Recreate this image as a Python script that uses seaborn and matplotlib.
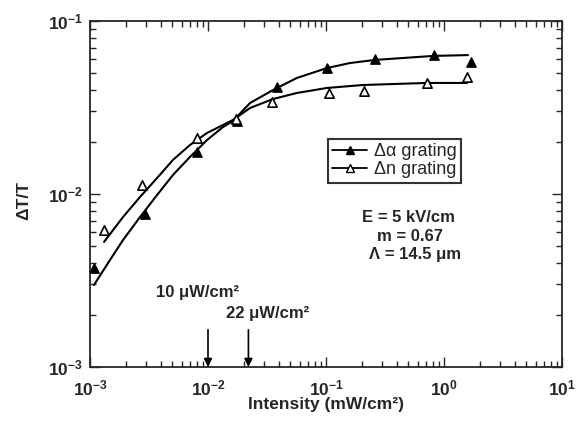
import numpy as np
import pandas as pd
import matplotlib
matplotlib.use("Agg")
import matplotlib.pyplot as plt
from matplotlib.lines import Line2D
import seaborn as sns

# ---- data ----
alpha_I = [1.08e-3, 2.92e-3, 8.07e-3, 0.0176, 0.0385, 0.102, 0.26, 0.822, 1.69]
alpha_dT = [3.73e-3, 7.65e-3, 0.0175, 0.0264, 0.0415, 0.0535, 0.0603, 0.0636, 0.058]

n_I = [1.315e-3, 2.76e-3, 8.07e-3, 0.0173, 0.0348, 0.106, 0.21, 0.718, 1.57]
n_dT = [6.19e-3, 0.01127, 0.0211, 0.0272, 0.034, 0.0384, 0.0394, 0.0438, 0.0474]

# fitted curves
alpha_fit_I = [1.081e-3, 1.476e-3, 1.905e-3, 2.655e-3, 3.698e-3, 5.047e-3, 7.031e-3,
               9.817e-3, 0.0134, 0.01629, 0.0227, 0.03556, 0.05675, 0.1019, 0.1596,
               0.26, 0.8072, 1.596]
alpha_fit_dT = [2.979e-3, 4.15e-3, 5.42e-3, 7.362e-3, 9.863e-3, 0.01288, 0.01637,
                0.02051, 0.02438, 0.02642, 0.03357, 0.0399, 0.04688, 0.05346, 0.05715,
                0.05957, 0.06281, 0.06353]
n_fit_I = [1.315e-3, 1.905e-3, 2.655e-3, 3.698e-3, 5.047e-3, 7.031e-3, 9.817e-3,
           0.0134, 0.01629, 0.0227, 0.03556, 0.05675, 0.1019, 0.2061, 0.7178, 1.567]
n_fit_dT = [5.284e-3, 7.362e-3, 9.616e-3, 0.01236, 0.01574, 0.01919, 0.02254,
            0.02506, 0.02679, 0.03141, 0.0354, 0.03837, 0.04102, 0.04266, 0.04385,
            0.04385]

x_ticks = [1e-3, 1e-2, 1e-1, 1e0, 1e1]
x_ticklabels = [r"$\mathbf{10^{-3}}$", r"$\mathbf{10^{-2}}$", r"$\mathbf{10^{-1}}$",
                r"$\mathbf{10^{0}}$", r"$\mathbf{10^{1}}$"]
y_ticks = [1e-3, 1e-2, 1e-1]
y_ticklabels = [r"$\mathbf{10^{-3}}$", r"$\mathbf{10^{-2}}$", r"$\mathbf{10^{-1}}$"]

legend_labels = ["Δα grating", "Δn grating"]
arrow_I = [0.01, 0.022]
arrow_labels = ["10 μW/cm²", "22 μW/cm²"]

# ---- style ----
sns.set_theme(style="ticks")
plt.rcParams["font.family"] = ["Liberation Sans", "DejaVu Sans"]
plt.rcParams["mathtext.fontset"] = "custom"
plt.rcParams["mathtext.rm"] = "Liberation Sans"
plt.rcParams["mathtext.bf"] = "Liberation Sans:bold"
plt.rcParams["mathtext.it"] = "Liberation Sans:italic"

fig = plt.figure(figsize=(5.86, 4.29), dpi=100)
ax = fig.add_axes([90/586, 1-367/429, 472/586, 346/429])

fit_a = pd.DataFrame({"I": alpha_fit_I, "dT": alpha_fit_dT})
fit_n = pd.DataFrame({"I": n_fit_I, "dT": n_fit_dT})
pts_a = pd.DataFrame({"I": alpha_I, "dT": alpha_dT})
pts_n = pd.DataFrame({"I": n_I, "dT": n_dT})

sns.lineplot(data=fit_a, x="I", y="dT", ax=ax, color="black", lw=1.5, sort=False)
sns.lineplot(data=fit_n, x="I", y="dT", ax=ax, color="black", lw=1.5, sort=False)
sns.scatterplot(data=pts_a, x="I", y="dT", ax=ax, marker="^", s=45,
                color="black", edgecolor="black", linewidth=1.0, zorder=3)
sns.scatterplot(data=pts_n, x="I", y="dT", ax=ax, marker="^", s=45,
                facecolor="white", edgecolor="black", linewidth=1.2, zorder=3)

ax.set_xscale("log")
ax.set_yscale("log")
ax.set_xlim(1e-3, 1e1)
ax.set_ylim(1e-3, 1e-1)
ax.set_xticks(x_ticks)
ax.set_xticklabels(x_ticklabels, fontsize=12.5)
ax.set_yticks(y_ticks)
ax.set_yticklabels(y_ticklabels, fontsize=12.5)
ax.tick_params(which="both", direction="in", top=True, right=True, width=1.0)
ax.tick_params(which="major", length=7)
ax.tick_params(which="minor", length=4)
ax.tick_params(axis="x", which="major", pad=8)
ax.tick_params(axis="y", which="major", pad=5)
for s in ax.spines.values():
    s.set_linewidth(1.3)

ax.set_xlabel("Intensity (mW/cm²)", fontsize=12.5, fontweight="bold")
ax.set_ylabel("ΔT/T", fontsize=12.5, fontweight="bold")
ax.xaxis.set_label_coords(0.5, -0.087)
ax.yaxis.set_label_coords(-0.125, 0.48)

# arrows
for xi in arrow_I:
    ax.annotate("", xy=(xi, 1e-3), xytext=(xi, 1.64e-3),
                arrowprops=dict(arrowstyle="-|>", color="black", lw=1.2,
                                shrinkA=0, shrinkB=0, mutation_scale=12))
ax.text(0.227, 0.214, arrow_labels[0], transform=ax.transAxes, ha="center",
        va="center", fontsize=12, fontweight="bold")
ax.text(0.377, 0.156, arrow_labels[1], transform=ax.transAxes, ha="center",
        va="center", fontsize=12, fontweight="bold")

ax.text(0.674, 0.431, "E = 5 kV/cm", transform=ax.transAxes, ha="center",
        va="center", fontsize=12, fontweight="bold")
ax.text(0.678, 0.376, "m = 0.67", transform=ax.transAxes, ha="center",
        va="center", fontsize=12, fontweight="bold")
ax.text(0.689, 0.324, "Λ = 14.5 μm", transform=ax.transAxes, ha="center",
        va="center", fontsize=12, fontweight="bold")

handles = [
    Line2D([], [], color="black", lw=1.3, marker="^", markersize=6,
           markerfacecolor="black", markeredgecolor="black"),
    Line2D([], [], color="black", lw=1.3, marker="^", markersize=6,
           markerfacecolor="white", markeredgecolor="black"),
]
leg = ax.legend(handles, legend_labels, loc="upper left",
                bbox_to_anchor=(0.504, 0.659), frameon=True, fancybox=False,
                edgecolor="black", fontsize=13, handlelength=1.9,
                borderpad=0.25, labelspacing=0.05, handletextpad=0.4,
                borderaxespad=0.0, markerscale=1.0)
leg.get_frame().set_linewidth(1.5)

fig.savefig("out.png", dpi=100)
